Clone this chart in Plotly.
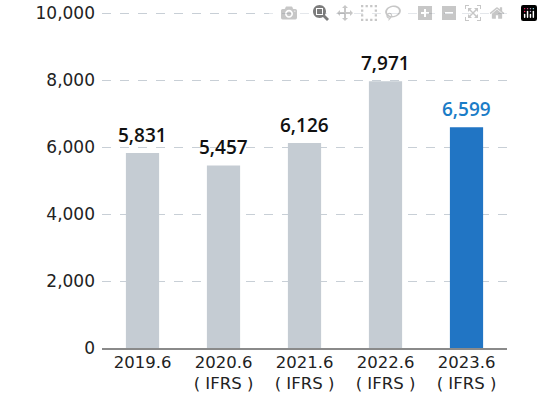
import plotly.graph_objects as go

categories = ["2019.6", "2020.6<br>( IFRS )", "2021.6<br>( IFRS )", "2022.6<br>( IFRS )", "2023.6<br>( IFRS )"]
values = [5831, 5457, 6126, 7971, 6599]
value_labels = ["5,831", "5,457", "6,126", "7,971", "6,599"]
bar_colors = ["#c5ccd3", "#c5ccd3", "#c5ccd3", "#c5ccd3", "#2175c4"]
label_colors = ["#111111", "#111111", "#111111", "#111111", "#1a7cc7"]
y_ticks = [0, 2000, 4000, 6000, 8000, 10000]
y_ticktext = ["0", "2,000", "4,000", "6,000", "8,000", "10,000"]

fig = go.Figure(go.Bar(
    x=categories, y=values,
    marker=dict(color=bar_colors, line=dict(width=0)),
    width=0.41,
))

# annotations placed by category index on the category axis
for i, (v, t, col) in enumerate(zip(values, value_labels, label_colors)):
    fig.add_annotation(
        x=i, y=v, xref="x", yref="y", text=t, showarrow=False, yanchor="bottom", yshift=3,
        font=dict(family="Open Sans, sans-serif", size=19, color=col, weight=600),
    )

# top gridline (plotly omits the grid line at the range edge)
fig.add_shape(type="line", xref="paper", x0=0, x1=1, yref="y", y0=y_ticks[-1], y1=y_ticks[-1],
              line=dict(color="#c8cfd6", width=1, dash="dash"), layer="below")

fig.update_layout(
    width=543, height=394,
    margin=dict(l=102, r=36, t=13, b=46, autoexpand=False),
    plot_bgcolor="white", paper_bgcolor="white",
    showlegend=False,
    font=dict(family="DejaVu Sans, sans-serif", size=18, color="#222222"),
)
fig.update_xaxes(
    type="category", range=[-0.5, 4.5],
    showgrid=False, showline=True, linecolor="#8a8a8a", linewidth=1.5,
    ticks="", tickfont=dict(size=16.5, color="#222222"), automargin=False,
    ticklabeloverflow="allow", ticklabelstandoff=-2,
)
fig.update_yaxes(
    type="linear", range=[0, 10015], tickvals=y_ticks, ticktext=y_ticktext,
    showgrid=True, gridcolor="#c8cfd6", griddash="dash", gridwidth=1,
    zeroline=False, showline=False, ticks="", ticklabelstandoff=6,
    tickfont=dict(size=17, color="#222222"), automargin=False,
    ticklabeloverflow="allow",
)
fig.write_html("out.html", post_script="document.body.style.margin='0';")
